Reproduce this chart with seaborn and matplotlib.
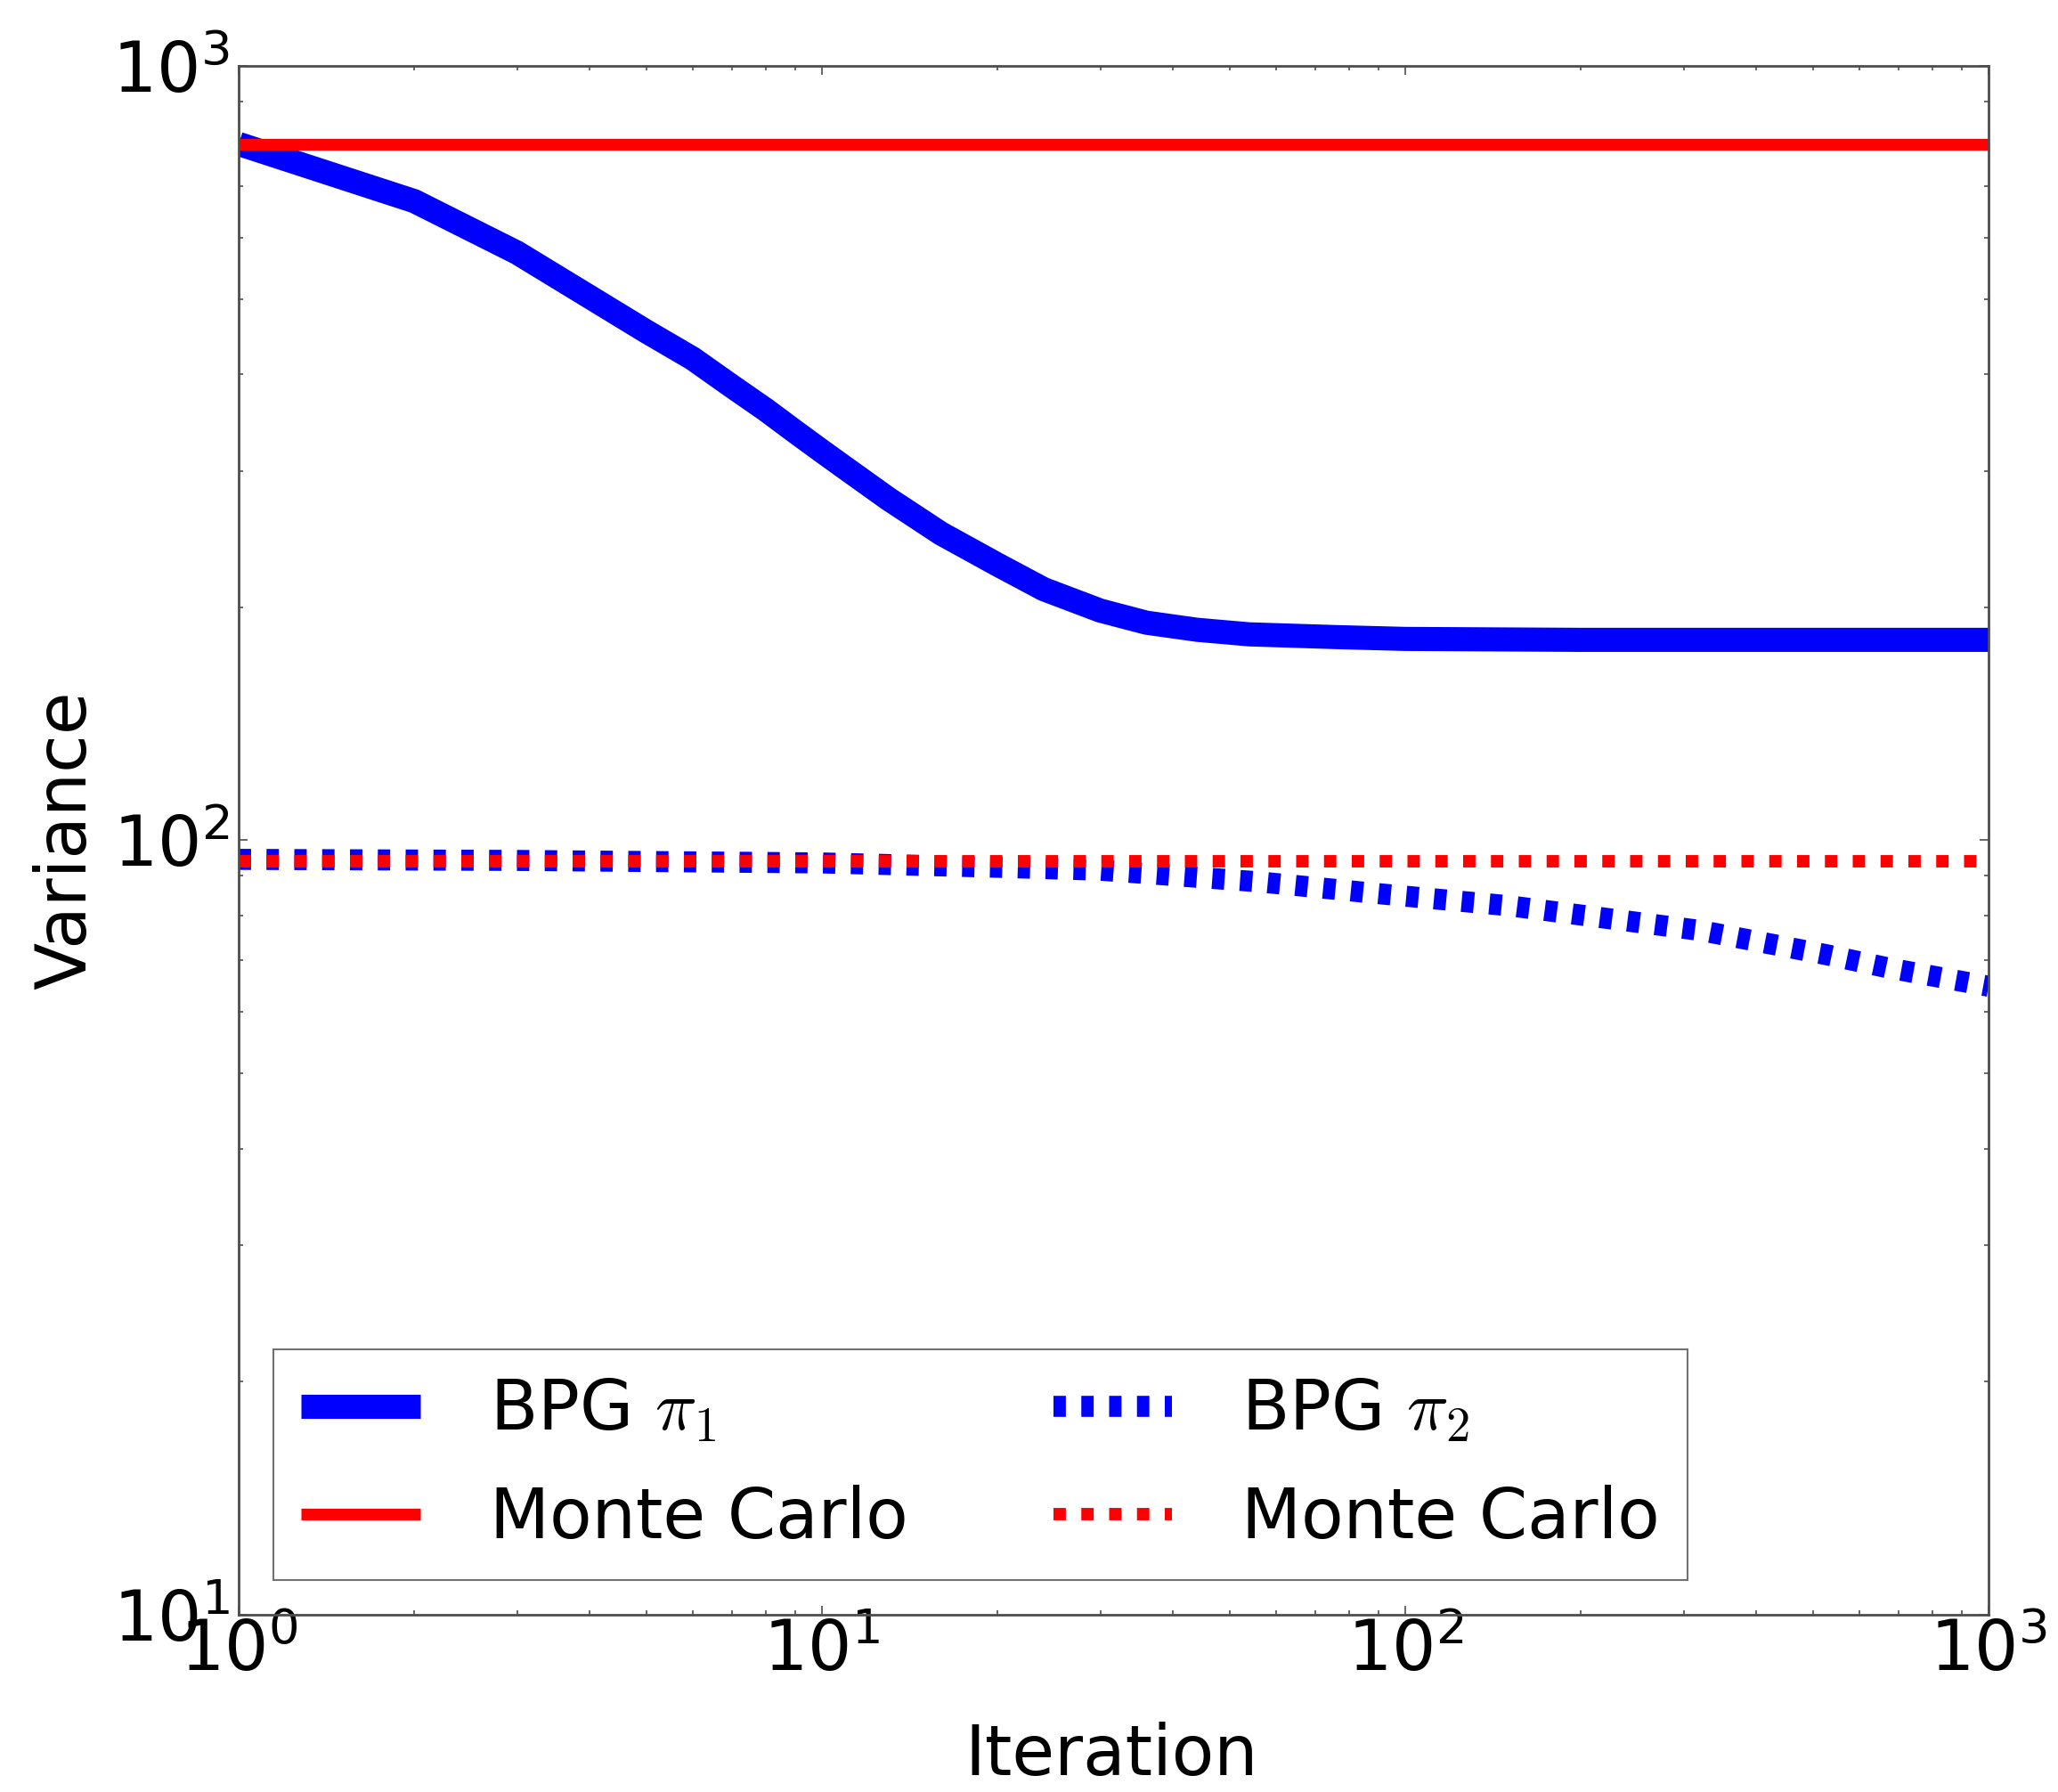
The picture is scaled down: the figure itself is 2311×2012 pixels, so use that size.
import numpy as np
import pandas as pd
import matplotlib
matplotlib.use("Agg")
import matplotlib.pyplot as plt
import seaborn as sns
from matplotlib.ticker import LogLocator, NullFormatter

# ---- data ----
iter_bpg1 = [1, 2, 3, 4, 5, 6, 7, 8, 9, 10, 11, 13, 16, 20, 24, 30, 36, 44, 54, 76, 100, 200, 1000]
var_bpg1 = [793, 669, 574, 503, 454, 419, 386, 360, 337, 318, 302, 276, 249, 227, 211, 198, 191,
            187, 184.5, 183, 182, 181.5, 181.5]

iter_mc = [1, 1000]
var_mc1 = [793, 793]

iter_bpg2 = [1, 3, 10, 20, 30, 56, 92, 151, 320, 526, 675, 1000]
var_bpg2 = [94.5, 94.2, 93.5, 92.3, 91.5, 88.4, 85.2, 82.3, 76.5, 71.2, 68.4, 64.8]

var_mc2 = [94.0, 94.0]

labels = ["BPG $\\pi_1$", "Monte Carlo", "BPG $\\pi_2$", "Monte Carlo"]
x_label = "Iteration"
y_label = "Variance"

# ---- style ----
sns.set_style("white")
plt.rcParams["font.family"] = ["DejaVu Sans"]
plt.rcParams["mathtext.fontset"] = "cm"
plt.rcParams["lines.scale_dashes"] = False
plt.rcParams["lines.solid_capstyle"] = "butt"
plt.rcParams["lines.dash_capstyle"] = "butt"
plt.rcParams["text.color"] = "black"
plt.rcParams["axes.labelcolor"] = "black"
plt.rcParams["xtick.color"] = "black"
plt.rcParams["ytick.color"] = "black"

FS = 56

fig = plt.figure(figsize=(23.11, 20.12), dpi=100)
ax = fig.add_axes([0.11597, 0.09891, 0.85028, 0.86431])
ax.set_xscale("log")
ax.set_yscale("log")

dots = (0, (10, 12.5))
sns.lineplot(x=iter_bpg1, y=var_bpg1, ax=ax, color="#0000ff", linewidth=19.5, label=labels[0])
sns.lineplot(x=iter_mc, y=var_mc1, ax=ax, color="#ff0000", linewidth=9.5, label=labels[1])
sns.lineplot(x=iter_bpg2, y=var_bpg2, ax=ax, color="#0000ff", linewidth=17, linestyle=dots, label=labels[2])
sns.lineplot(x=iter_mc, y=var_mc2, ax=ax, color="#ff0000", linewidth=10, linestyle=dots, label=labels[3])

ax.set_xlim(1, 1000)
ax.set_ylim(10, 1000)

for sp in ax.spines.values():
    sp.set_visible(True)
    sp.set_color("0.3")
    sp.set_linewidth(2)

ax.xaxis.set_major_locator(LogLocator(base=10))
ax.yaxis.set_major_locator(LogLocator(base=10))
ax.xaxis.set_minor_locator(LogLocator(base=10, subs=np.arange(2, 10)))
ax.yaxis.set_minor_locator(LogLocator(base=10, subs=np.arange(2, 10)))
ax.xaxis.set_minor_formatter(NullFormatter())
ax.yaxis.set_minor_formatter(NullFormatter())

ax.tick_params(which="both", direction="in", top=True, right=True, bottom=True, left=True,
               color="0.3", labelcolor="black", width=1.2, labelsize=FS)
ax.tick_params(which="major", length=7)
ax.tick_params(which="minor", length=3.6)
ax.tick_params(axis="x", which="major", pad=2)
ax.tick_params(axis="y", which="major", pad=7)

ax.set_xlabel(x_label, fontsize=FS, color="black")
ax.set_ylabel(y_label, fontsize=FS, color="black")
ax.xaxis.set_label_coords(0.499, -0.069)
ax.yaxis.set_label_coords(-0.079, 0.5)

leg = ax.legend(loc="lower left", ncol=2, fontsize=FS, frameon=True, fancybox=False,
                edgecolor="0.3", borderpad=0.4, labelspacing=0.58, handlelength=1.72,
                handletextpad=1.0, columnspacing=2.1, borderaxespad=0.5)
leg.get_frame().set_linewidth(1.5)
for t in leg.get_texts():
    t.set_color("black")

fig.savefig("out.png", dpi=100, facecolor="white")
